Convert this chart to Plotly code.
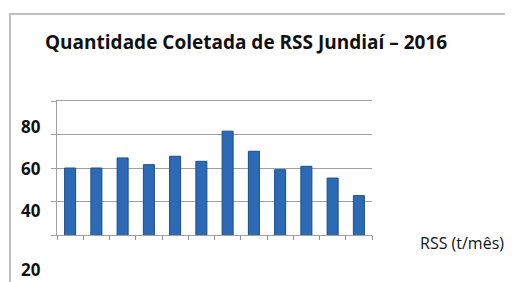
import plotly.graph_objects as go

months = ["Jan", "Fev", "Mar", "Abr", "Mai", "Jun", "Jul", "Ago", "Set", "Out", "Nov", "Dez"]
rss_values = [60, 60, 66, 62, 67, 64, 82, 70, 59, 61, 54, 43.5]
ytick_labels = ["80", "60", "40", "20"]
series_name = "RSS (t/mês)"
title_text = "Quantidade Coletada de RSS Jundiaí – 2016"

OFF = 8  # page body margin
W, H = 513 - OFF, 282 - OFF
# plot area in window pixels: x 57..372, y 101..235
ml, mr, mt, mb = 57 - OFF, 513 - 372, 101 - OFF, 282 - 235
plot_w = W - ml - mr
plot_h = H - mt - mb

def px_x(x):
    return (x - 57) / plot_w

def px_y(y):
    return (235 - y) / plot_h

# pixel centres of the (displaced) y labels in the original picture
label_px = [126, 168, 210, 269]

fig = go.Figure()
fig.add_trace(go.Bar(
    x=months, y=rss_values, name=series_name,
    width=0.42,
    marker=dict(color="#2C6AB6", line=dict(color="#1D4C8A", width=1)),
    showlegend=False,
))

annotations = []
for lab, py in zip(ytick_labels, label_px):
    annotations.append(dict(
        text="<b>" + lab + "</b>", xref="paper", yref="paper",
        x=px_x(31), y=px_y(py),
        xanchor="center", yanchor="middle", showarrow=False,
        font=dict(family="Open Sans", size=17, color="#111111"),
    ))
annotations.append(dict(
    text=series_name, xref="paper", yref="paper",
    x=px_x(462), y=px_y(243),
    xanchor="center", yanchor="middle", showarrow=False,
    font=dict(family="Open Sans", size=16, color="#111111"),
))

fig.update_layout(
    width=W, height=H,
    margin=dict(l=ml, r=mr, t=mt, b=mb),
    paper_bgcolor="white", plot_bgcolor="white",
    title=dict(text="<b>" + title_text + "</b>", x=(45 - OFF) / W, xanchor="left",
               y=1 - (42 - OFF) / H, yanchor="middle",
               font=dict(family="Open Sans", size=19, color="#111111")),
    xaxis=dict(type="category", showticklabels=False, ticks="outside",
               tickson="boundaries", ticklen=4, tickcolor="#909090",
               showline=True, mirror=True, linecolor="#A0A0A0", linewidth=1,
               showgrid=False),
    yaxis=dict(range=[20, 100], dtick=20, tick0=20, showticklabels=False,
               ticks="outside", ticklen=5, tickcolor="#A0A0A0",
               showgrid=True, gridcolor="#A0A0A0", gridwidth=1,
               showline=True, linecolor="#A0A0A0", linewidth=1, zeroline=False),
    annotations=annotations,
    shapes=[dict(type="rect", xref="paper", yref="paper",
                 x0=px_x(10), x1=1.6,
                 y0=-0.6, y1=px_y(14),
                 line=dict(color="#C0C0C0", width=2), layer="below")],
)

fig.write_html("out.html")
